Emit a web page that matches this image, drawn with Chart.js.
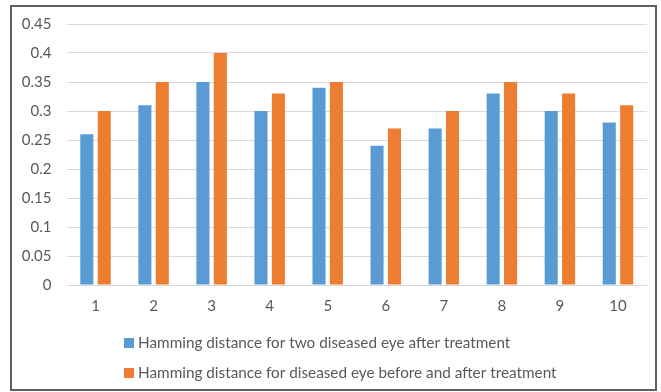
<!DOCTYPE html>
<html>
<head>
<meta charset="utf-8">
<script src="https://cdn.jsdelivr.net/npm/chart.js@4/dist/chart.umd.min.js"></script>
<style>
  html, body { margin: 0; padding: 0; background: #fff; }
  #wrap { position: relative; width: 661px; height: 392px; }
  #frame {
    position: absolute; left: 10px; top: 5px; width: 647px; height: 386px;
    box-sizing: border-box; border: 2px solid #606060; pointer-events: none;
  }
</style>
</head>
<body>
<div id="wrap">
  <canvas id="chart"></canvas>
  <div id="frame"></div>
</div>
<script>
// Hamming distances per sample
const categories = ['1', '2', '3', '4', '5', '6', '7', '8', '9', '10'];
const twoEyesAfter = [0.26, 0.31, 0.35, 0.30, 0.34, 0.24, 0.27, 0.33, 0.30, 0.28];
const beforeAfter = [0.30, 0.35, 0.40, 0.33, 0.35, 0.27, 0.30, 0.35, 0.33, 0.31];
const seriesNames = [
  'Hamming distance for two diseased eye after treatment',
  'Hamming distance for diseased eye before and after treatment'
];

const FONT = 'Lato, "Liberation Sans", Arial, sans-serif';
const TEXT = '#595959';

// Legend stacked below the plot, left-aligned block
const stackedLegend = {
  id: 'stackedLegend',
  afterDraw(chart) {
    const ctx = chart.ctx;
    ctx.save();
    ctx.font = '15.3px ' + FONT;
    ctx.textBaseline = 'middle';
    ctx.textAlign = 'left';
    chart.data.datasets.forEach((ds, i) => {
      const cy = 343 + i * 30;
      ctx.fillStyle = ds.backgroundColor;
      ctx.fillRect(124, cy - 5, 10, 10);
      ctx.fillStyle = TEXT;
      ctx.fillText(ds.label, 138, cy);
    });
    ctx.restore();
  }
};

new Chart(document.getElementById('chart'), {
  type: 'bar',
  data: {
    labels: categories,
    datasets: [
      { label: seriesNames[0], data: twoEyesAfter, backgroundColor: '#5B9BD5' },
      { label: seriesNames[1], data: beforeAfter, backgroundColor: '#ED7D31' }
    ]
  },
  options: {
    responsive: true,
    maintainAspectRatio: false,
    animation: false,
    devicePixelRatio: 1,
    categoryPercentage: 0.6,
    barPercentage: 0.75,
    layout: { padding: { left: 10, top: 22, right: 14, bottom: 0 } },
    plugins: {
      legend: { display: false },
      tooltip: { enabled: false }
    },
    scales: {
      x: {
        grid: { display: false, drawTicks: false },
        border: { display: false },
        ticks: { color: TEXT, font: { family: FONT, size: 15 }, padding: 12 },
        afterFit(scale) { scale.height = 107; }
      },
      y: {
        min: 0,
        max: 0.45,
        ticks: {
          stepSize: 0.05,
          color: TEXT,
          font: { family: FONT, size: 15 },
          padding: 15,
          callback: (v) => String(Math.round(v * 100) / 100)
        },
        grid: { color: '#d9d9d9', drawTicks: false },
        border: { display: false },
        afterFit(scale) { scale.width = 56.5; }
      }
    }
  },
  plugins: [stackedLegend]
});
</script>
</body>
</html>
